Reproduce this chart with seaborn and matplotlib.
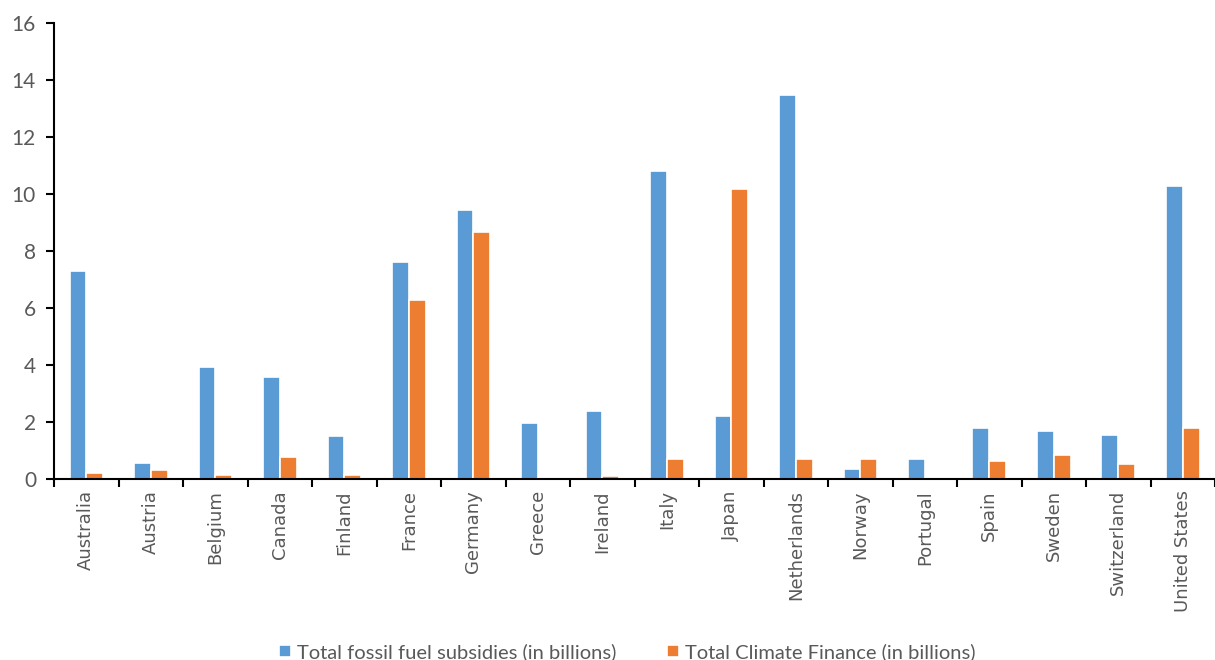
import matplotlib
matplotlib.use("Agg")
import matplotlib.pyplot as plt
import seaborn as sns
import pandas as pd
import numpy as np
from matplotlib.ticker import FixedLocator

countries = ["Australia", "Austria", "Belgium", "Canada", "Finland", "France",
             "Germany", "Greece", "Ireland", "Italy", "Japan", "Netherlands",
             "Norway", "Portugal", "Spain", "Sweden", "Switzerland", "United States"]
fossil_subsidies = [7.3, 0.58, 3.95, 3.57, 1.5, 7.62, 9.45, 1.98, 2.4, 10.8,
                    2.22, 13.47, 0.34, 0.72, 1.8, 1.7, 1.56, 10.28]
climate_finance = [0.2, 0.3, 0.15, 0.77, 0.15, 6.28, 8.66, 0.03, 0.1, 0.72,
                   10.2, 0.72, 0.72, 0.03, 0.62, 0.85, 0.52, 1.8]
series_names = ["Total fossil fuel subsidies (in billions)",
                "Total Climate Finance (in billions)"]
y_ticks = [0, 2, 4, 6, 8, 10, 12, 14, 16]

df = pd.DataFrame({
    "country": countries * 2,
    "value": fossil_subsidies + climate_finance,
    "series": [series_names[0]] * len(countries) + [series_names[1]] * len(countries),
})

sns.set_theme(style="white")
plt.rcParams["font.family"] = ["Lato", "DejaVu Sans"]

text_grey = "#595959"
palette = {series_names[0]: "#5B9BD5", series_names[1]: "#ED7D31"}

fig = plt.figure(figsize=(12.15, 6.6), dpi=100)
ax = fig.add_axes([0.0445, 0.2742, 0.9555, 0.6905])

sns.barplot(data=df, x="country", y="value", hue="series", order=countries,
            hue_order=series_names, palette=palette, width=0.52,
            edgecolor="white", linewidth=1.2, saturation=1, ax=ax, legend=True)

ax.set_xlim(-0.5, len(countries) - 0.5)
ax.set_ylim(0, 16)
ax.set_yticks(y_ticks)
ax.set_yticklabels([str(t) for t in y_ticks], fontsize=15, color=text_grey)
ax.set_xlabel("")
ax.set_ylabel("")

# category ticks sit on the boundaries between groups
ax.xaxis.set_major_locator(FixedLocator(np.arange(len(countries))))
ax.set_xticklabels(countries, rotation=90, fontsize=13, color=text_grey,
                   family=["DejaVu Sans"])
ax.xaxis.set_minor_locator(FixedLocator(np.arange(-0.5, len(countries), 1.0)))
ax.tick_params(axis="x", which="major", length=0, pad=8)
ax.tick_params(axis="x", which="minor", length=6, width=1.5, color="black",
               direction="out", bottom=True)
ax.tick_params(axis="y", length=6, width=1.5, color="black", direction="out",
               left=True, pad=7)

for side in ["top", "right"]:
    ax.spines[side].set_visible(False)
for side in ["left", "bottom"]:
    ax.spines[side].set_color("black")
    ax.spines[side].set_linewidth(1.5)

leg = ax.get_legend()
handles = leg.legend_handles
leg.remove()
fig.legend(handles, series_names, loc="center", bbox_to_anchor=(0.5165, 0.012),
           ncol=2, frameon=False, fontsize=14.5, labelcolor=text_grey,
           handlelength=0.6, handleheight=0.6, handletextpad=0.3,
           columnspacing=2.5)

fig.savefig("out.png", dpi=100)
